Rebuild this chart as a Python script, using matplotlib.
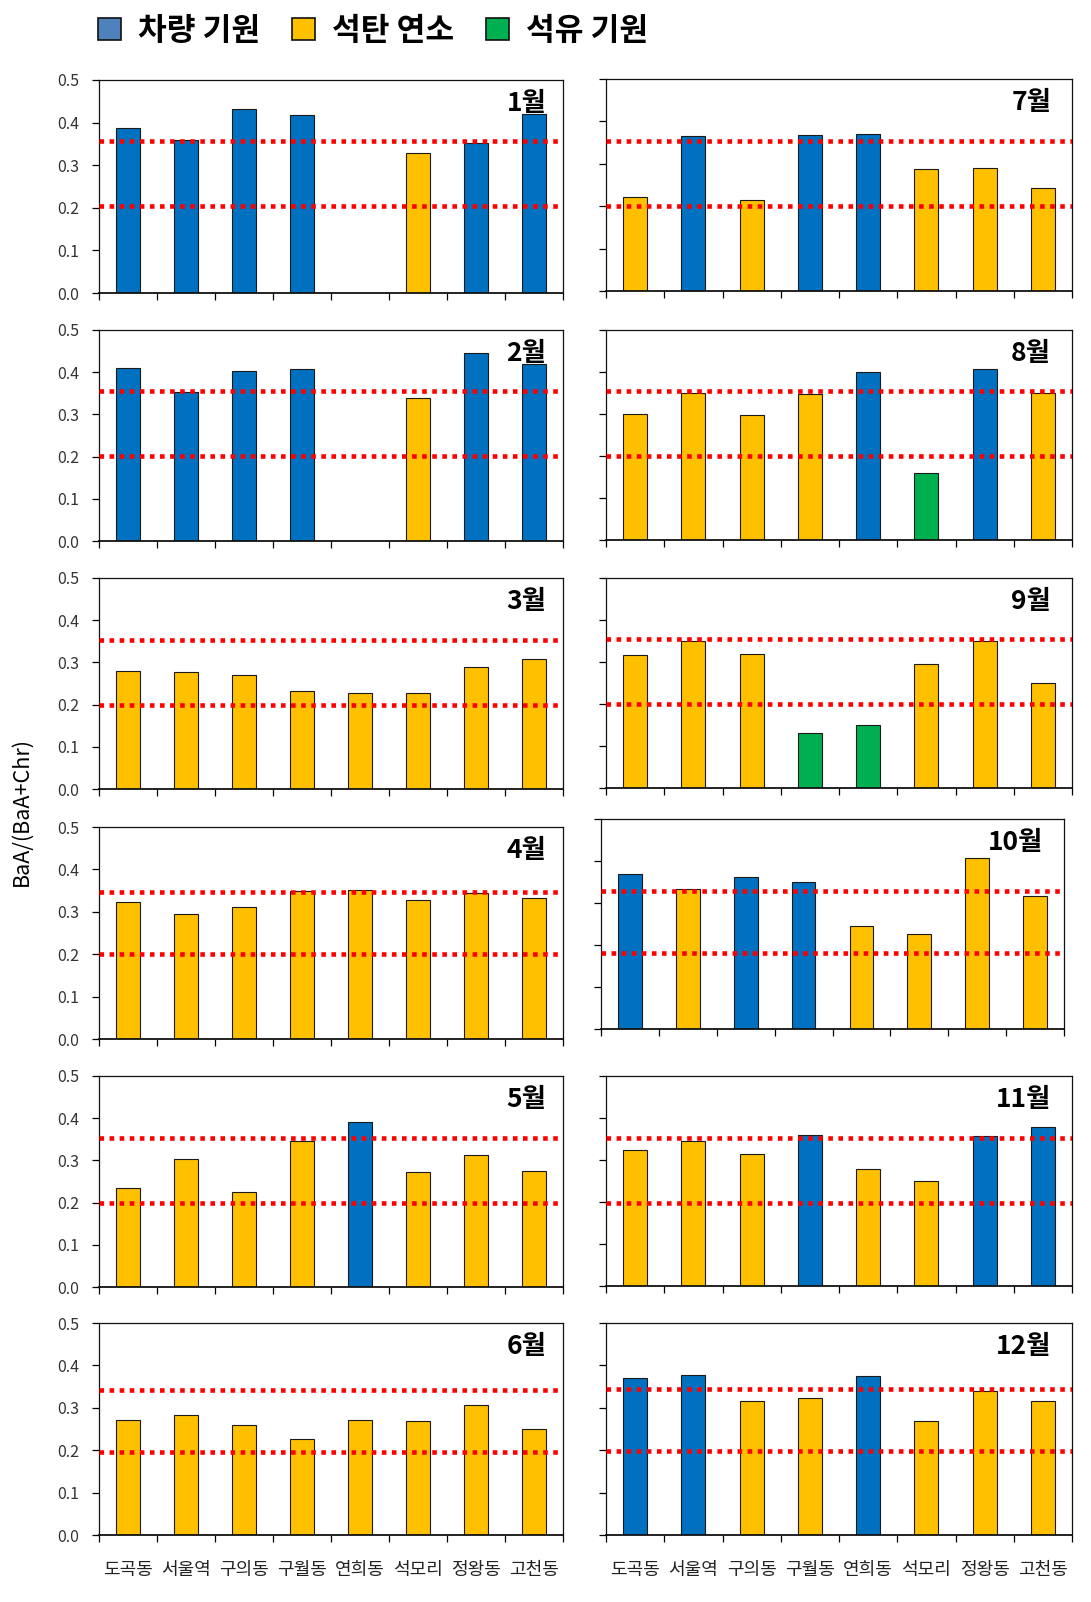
import numpy as np
import matplotlib
matplotlib.use("Agg")
import matplotlib.pyplot as plt
from matplotlib.patches import Patch

plt.rcParams["font.family"] = ["Noto Sans CJK KR", "DejaVu Sans"]

SITES = ["도곡동", "서울역", "구의동", "구월동", "연희동", "석모리", "정왕동", "고천동"]
MONTHS = [f"{m}월" for m in range(1, 13)]
SOURCE_NAMES = ["차량 기원", "석탄 연소", "석유 기원"]

nan = np.nan
# BaA/(BaA+Chr) per site, one list per month
M01 = [0.387, 0.359, 0.431, 0.417, nan, 0.329, 0.351, 0.421]
M02 = [0.411, 0.352, 0.402, 0.408, nan, 0.340, 0.445, 0.419]
M03 = [0.280, 0.277, 0.271, 0.233, 0.227, 0.227, 0.288, 0.307]
M04 = [0.322, 0.294, 0.312, 0.350, 0.352, 0.329, 0.344, 0.333]
M05 = [0.235, 0.303, 0.224, 0.347, 0.392, 0.273, 0.312, 0.276]
M06 = [0.271, 0.283, 0.259, 0.226, 0.271, 0.268, 0.306, 0.251]
M07 = [0.222, 0.365, 0.215, 0.367, 0.371, 0.287, 0.290, 0.243]
M08 = [0.300, 0.350, 0.297, 0.348, 0.401, 0.159, 0.407, 0.351]
M09 = [0.316, 0.349, 0.318, 0.131, 0.149, 0.296, 0.349, 0.250]
M10 = [0.370, 0.333, 0.361, 0.350, 0.246, 0.226, 0.408, 0.316]
M11 = [0.325, 0.345, 0.314, 0.359, 0.278, 0.249, 0.356, 0.379]
M12 = [0.371, 0.377, 0.316, 0.324, 0.375, 0.268, 0.339, 0.316]
VALUES = [M01, M02, M03, M04, M05, M06, M07, M08, M09, M10, M11, M12]

# source class per bar: 0 vehicle, 1 coal, 2 oil
S01 = [0, 0, 0, 0, 1, 1, 0, 0]
S02 = [0, 0, 0, 0, 1, 1, 0, 0]
S03 = [1, 1, 1, 1, 1, 1, 1, 1]
S04 = [1, 1, 1, 1, 1, 1, 1, 1]
S05 = [1, 1, 1, 1, 0, 1, 1, 1]
S06 = [1, 1, 1, 1, 1, 1, 1, 1]
S07 = [1, 0, 1, 0, 0, 1, 1, 1]
S08 = [1, 1, 1, 1, 0, 2, 0, 1]
S09 = [1, 1, 1, 2, 2, 1, 1, 1]
S10 = [0, 1, 0, 0, 1, 1, 1, 1]
S11 = [1, 1, 1, 0, 1, 1, 0, 0]
S12 = [0, 0, 1, 1, 0, 1, 1, 1]
SOURCES = [S01, S02, S03, S04, S05, S06, S07, S08, S09, S10, S11, S12]

# dotted reference lines as they sit in each panel
UPPER = [0.357, 0.356, 0.354, 0.347, 0.354, 0.342, 0.354, 0.355, 0.354, 0.328, 0.352, 0.344]
LOWER = [0.204, 0.202, 0.199, 0.200, 0.199, 0.195, 0.201, 0.200, 0.199, 0.180, 0.197, 0.197]

BAR_COLORS = ["#0070C0", "#FFC000", "#00B050"]
LEGEND_COLORS = ["#4F81BD", "#FFC000", "#00B050"]

W, H = 1091, 1602
# panel boxes in pixels: (left, top, right, bottom)
LEFT_BOXES = [(99, 80, 563, 293), (99, 330, 563, 541), (99, 578, 563, 789),
              (99, 827, 563, 1039), (99, 1076, 563, 1287), (99, 1323, 563, 1535)]
RIGHT_BOXES = [(606, 79, 1072, 291), (606, 330, 1072, 540), (606, 578, 1072, 788),
               (601, 819, 1064, 1029), (606, 1076, 1072, 1286), (606, 1323, 1072, 1535)]


def px_rect(box):
    l, t, r, b = box
    return [l / W, 1 - b / H, (r - l) / W, (b - t) / H]


fig = plt.figure(figsize=(W / 100, H / 100), dpi=100)
x = np.arange(len(SITES))

for i in range(12):
    col, row = divmod(i, 6)
    box = LEFT_BOXES[row] if col == 0 else RIGHT_BOXES[row]
    ax = fig.add_axes(px_rect(box))
    vals = np.array(VALUES[i], dtype=float)
    cols = [BAR_COLORS[s] for s in SOURCES[i]]
    ok = ~np.isnan(vals)
    ax.bar(x[ok], vals[ok], width=0.41, color=np.array(cols)[ok],
           edgecolor="#1a1a1a", linewidth=0.8, zorder=2)
    for yv in (UPPER[i], LOWER[i]):
        ax.axhline(yv, color="#FF0000", lw=3.3, ls=(0, (1.0, 1.2)), zorder=3)
    ax.set_xlim(-0.5, len(SITES) - 0.5)
    ax.set_ylim(0, 0.5)
    ax.set_yticks(np.arange(0, 0.51, 0.1))
    ax.set_xticks(x)
    ax.set_xticks(np.arange(-0.5, len(SITES)), minor=True)
    ax.tick_params(axis="x", which="major", length=0, pad=19, labelsize=13,
                   labelcolor="#222222")
    ax.tick_params(axis="x", which="minor", length=5, width=0.9, direction="out")
    ax.tick_params(axis="y", length=5, width=0.9, direction="out", pad=9,
                   labelsize=11.5, labelcolor="#333333")
    if row == 5:
        ax.set_xticklabels(SITES)
    else:
        ax.set_xticklabels([])
    if col == 0:
        ax.set_yticklabels([f"{v:.1f}" for v in np.arange(0, 0.51, 0.1)])
    else:
        ax.set_yticklabels([])
    for sp in ax.spines.values():
        sp.set_linewidth(0.9)
        sp.set_color("#111111")
    ax.spines["bottom"].set_linewidth(1.3)
    ax.text(0.964 if col == 0 else 0.955, 0.89, MONTHS[i], transform=ax.transAxes,
            ha="right", va="center", fontsize=19, fontweight="bold", zorder=5)

fig.text(22 / W, 1 - 812 / H, "BaA/(BaA+Chr)", rotation=90, ha="center", va="center",
         fontsize=15.5)

handles = [Patch(facecolor=c, edgecolor="#111111", linewidth=1.2) for c in LEGEND_COLORS]
fig.legend(handles, SOURCE_NAMES, loc="center left", bbox_to_anchor=(98 / W, 1 - 31 / H),
           ncol=3, frameon=False, handlelength=0.72, handleheight=0.72,
           handletextpad=0.55, columnspacing=1.03, borderpad=0, borderaxespad=0,
           prop={"size": 22.5, "weight": "bold"})

fig.savefig("out.png", dpi=100)
